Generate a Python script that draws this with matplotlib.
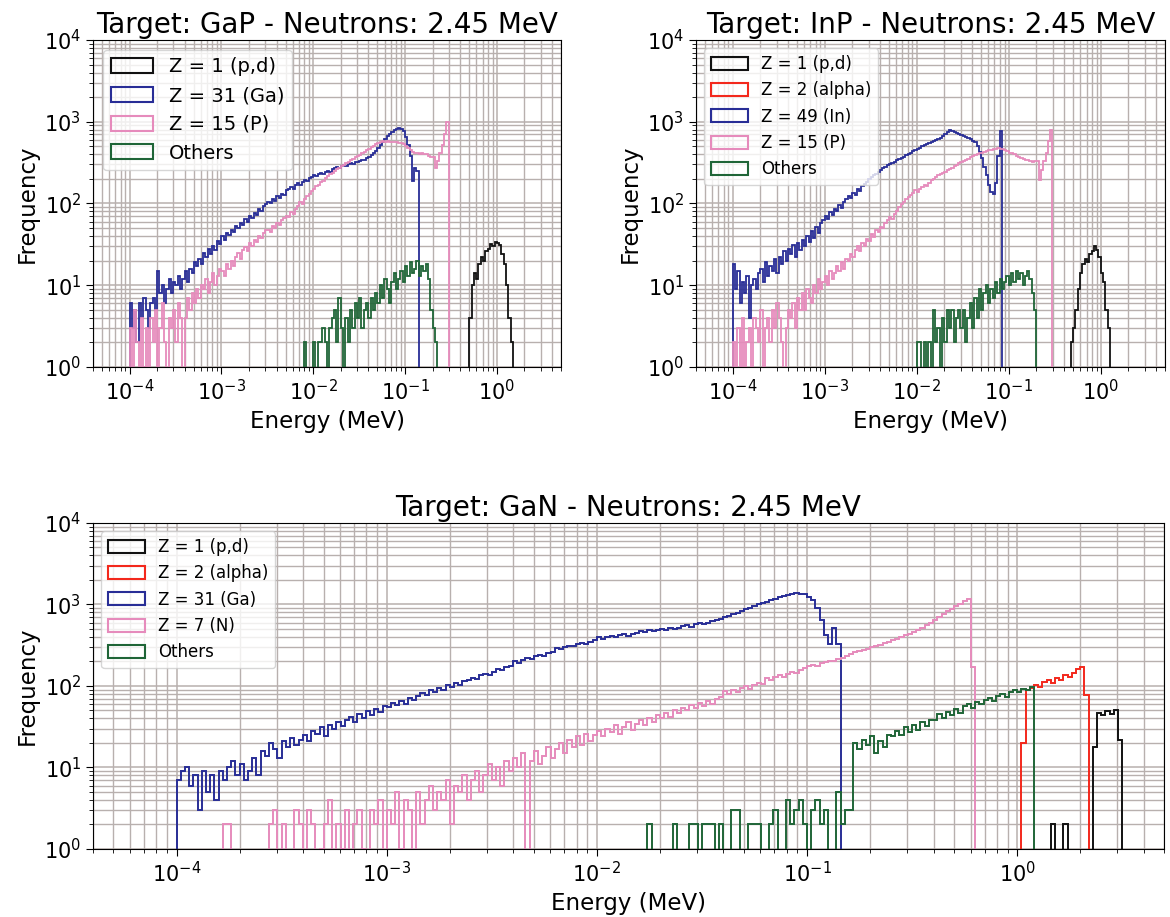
import numpy as np
import matplotlib
matplotlib.use("Agg")
import matplotlib.pyplot as plt
from matplotlib.patches import Patch
from matplotlib.ticker import LogLocator

# ---------------- binning (log-spaced energy bins, MeV) ----------------
E_MIN_EXP = -4
TOP_BINS_PER_DECADE = 40
BOTTOM_BINS_PER_DECADE = 50

# ---------------- GaP (top-left), 40 bins/decade from 1e-4 MeV ----------------
GAP_GA_START = 0
GAP_GA = [6, 3, 5, 2, 6, 4, 7, 5, 3, 6,
          7, 5, 15, 8, 10, 6, 9, 12, 8, 11,
          10, 13, 9, 12, 15, 11, 16, 14, 19, 17,
          21, 18, 25, 22, 28, 24, 30, 27, 35, 32,
          40, 36, 44, 41, 48, 45, 53, 50, 58, 55,
          64, 60, 70, 66, 77, 73, 85, 80, 92, 98,
          104, 100, 112, 108, 122, 118, 132, 128, 145, 150,
          158, 152, 170, 176, 168, 185, 192, 186, 205, 212,
          222, 215, 230, 238, 232, 245, 252, 246, 262, 275,
          280, 272, 288, 295, 290, 302, 310, 305, 318, 325,
          330, 338, 345, 360, 372, 390, 410, 440, 480, 520,
          560, 610, 660, 700, 750, 790, 820, 835, 810, 760,
          650, 520, 380, 190, 270, 250]
GAP_P_START = 0
GAP_P = [3, 0, 5, 2, 0, 4, 1, 3, 0, 4,
         2, 5, 0, 3, 6, 2, 0, 4, 3, 5,
         2, 6, 4, 0, 4, 7, 5, 8, 6, 9,
         7, 10, 9, 12, 8, 11, 14, 10, 13, 16,
         15, 13, 18, 16, 20, 17, 22, 25, 21, 27,
         29, 26, 33, 30, 36, 34, 40, 38, 44, 47,
         48, 45, 53, 50, 58, 55, 62, 66, 70, 68,
         78, 74, 85, 92, 105, 98, 115, 122, 130, 142,
         150, 162, 170, 182, 190, 204, 215, 228, 236, 250,
         262, 270, 285, 296, 310, 322, 340, 352, 368, 380,
         395, 410, 428, 450, 470, 490, 510, 528, 548, 560,
         575, 568, 580, 570, 565, 572, 560, 555, 548, 530,
         505, 480, 450, 430, 420, 410, 400, 415, 398, 405,
         385, 375, 370, 270, 330, 420, 520, 700, 980]
GAP_OTH_START = 76
GAP_OTH = [2,
           0, 0, 0, 2, 0, 2,
           2, 3, 2, 0, 3, 4,
           5, 2, 7, 3, 0, 4, 2,
           5, 3, 6, 4, 7, 3, 5, 6, 4, 7, 5,
           8, 6, 10, 7, 12, 9, 6, 11, 14, 9, 12,
           15, 11, 17, 13, 19, 14, 16, 20, 13, 17, 15, 18,
           12, 5, 3, 2]
GAP_H_START = 148
GAP_H = [4, 10, 14, 12, 18, 22, 20, 26, 28, 32, 30, 34, 33, 31, 24, 18, 10, 4, 2]

# ---------------- InP (top-right), 40 bins/decade ----------------
INP_IN_START = 0
INP_IN = [18, 9, 15, 6, 11, 8, 13, 4, 10, 12,
          9, 14, 16, 11, 19, 13, 17, 15, 21, 14,
          22, 18, 26, 20, 28, 24, 31, 22, 33, 27,
          36, 30, 40, 34, 46, 38, 52, 44, 58, 62,
          70, 64, 78, 72, 86, 80, 95, 88, 105, 112,
          125, 118, 135, 128, 150, 142, 165, 175, 185, 198,
          210, 222, 230, 245, 258, 270, 280, 292, 300, 315,
          325, 338, 350, 362, 375, 390, 405, 420, 440, 455,
          470, 482, 500, 515, 530, 545, 560, 578, 595, 610,
          630, 660, 700, 750, 790, 770, 745, 720, 705, 690,
          670, 655, 630, 610, 580, 560, 500, 430, 360, 280,
          220, 170, 140, 130, 180, 380, 760]
INP_P_START = 0
INP_P = [2, 0, 3, 1, 4, 0, 2, 3, 0, 4,
         3, 2, 5, 0, 3, 4, 2, 5, 3, 6,
         4, 2, 0, 3, 5, 4, 6, 3, 7, 5,
         8, 5, 9, 7, 6, 10, 8, 12, 9, 11,
         13, 10, 15, 12, 14, 17, 15, 19, 16, 21,
         20, 24, 22, 27, 30, 26, 33, 30, 37, 35,
         42, 39, 47, 45, 52, 50, 58, 62, 68, 65,
         75, 82, 90, 98, 105, 112, 120, 126, 135, 145,
         138, 150, 160, 170, 165, 180, 192, 200, 210, 222,
         230, 238, 245, 255, 262, 270, 285, 295, 310, 320,
         330, 345, 355, 370, 380, 392, 400, 412, 420, 428,
         435, 445, 450, 460, 470, 475, 465, 460, 450, 440,
         420, 412, 400, 385, 375, 360, 350, 345, 338, 330,
         325, 330, 335, 195, 260, 330, 420, 580, 800]
INP_OTH_START = 80
INP_OTH = [2,
           2, 0, 2, 0, 2,
           0, 5, 2, 3, 0, 4, 2, 5,
           3, 5, 2, 4, 5, 3, 5, 2, 4, 6,
           3, 7, 4, 9, 5, 8, 10, 6,
           9, 7, 11, 8, 12, 9, 11,
           13, 10, 14, 11, 15, 12, 14, 10, 13, 15, 12,
           8, 5]
INP_H_START = 147
INP_H = [2, 3, 5, 9, 14, 18, 21, 19, 24, 26, 30, 27, 22, 14, 11, 5, 3]

# ---------------- GaN (bottom), 50 bins/decade ----------------
GAN_GA_START = 0
GAN_GA = [7, 9, 10, 6, 8, 3, 9, 5, 8, 4,
          9, 7, 10, 12, 8, 11, 7, 9, 13, 8,
          16, 14, 20, 17, 13, 21, 18, 23, 19, 22,
          25, 21, 28, 26, 31, 24, 33, 30, 36, 32,
          38, 42, 36, 45, 41, 49, 44, 52, 48, 57,
          55, 62, 58, 66, 60, 71, 68, 75, 83, 78,
          88, 84, 95, 90, 102, 98, 108, 104, 115, 120,
          126, 121, 135, 142, 138, 150, 160, 155, 170, 178,
          200, 192, 210, 218, 212, 232, 240, 235, 255, 262,
          290, 282, 300, 312, 305, 325, 335, 330, 350, 362,
          395, 380, 402, 410, 398, 420, 430, 415, 440, 448,
          470, 455, 480, 468, 490, 500, 485, 510, 498, 520,
          540, 555, 535, 570, 585, 575, 600, 620, 640, 660,
          700, 730, 760, 790, 830, 870, 910, 960, 1000, 1040,
          1080, 1120, 1170, 1220, 1260, 1300, 1340, 1370, 1360, 1330,
          1230, 1120, 900, 640, 420, 330, 520, 330]
GAN_N_START = 10
GAN_N = [0, 2, 2, 0, 0, 0, 0, 0, 0, 0,
         0, 0, 2, 3, 0, 2, 0, 0, 3, 2,
         0, 3, 2, 0, 1, 2, 4, 0, 2, 1,
         3, 0, 2, 3, 1, 0, 3, 2, 4, 0,
         3, 2, 5, 1, 4, 3, 0, 5, 2, 4,
         6, 3, 5, 4, 7, 2, 6, 5, 8, 4,
         7, 9, 5, 8, 11, 7, 10, 6, 12, 9,
         13, 10, 15, 0, 12, 16, 11, 14, 18, 13,
         17, 20, 15, 22, 18, 24, 19, 26, 21, 25,
         28, 24, 30, 27, 33, 26, 31, 36, 29, 34,
         38, 33, 41, 36, 44, 40, 47, 42, 50, 46,
         54, 50, 58, 53, 62, 57, 66, 60, 70, 74,
         86, 80, 90, 85, 95, 100, 93, 104, 110, 106,
         124, 118, 130, 136, 128, 142, 150, 145, 158, 165,
         175, 182, 178, 190, 198, 205, 200, 215, 222, 230,
         250, 258, 265, 275, 285, 300, 310, 322, 335, 350,
         365, 380, 400, 420, 440, 465, 490, 520, 560, 600,
         650, 700, 760, 820, 880, 950, 1020, 1090, 1170, 170]
GAN_OTH_START = 112
GAN_OTH = [2, 0, 0, 0, 0, 0, 2, 0,
           0, 0, 2, 2, 0, 2, 2, 2, 0, 2,
           0, 0, 3, 3, 0, 0, 2, 2, 2, 0,
           0, 2, 3, 0, 0, 4, 2, 3, 4, 2,
           0, 3, 4, 2, 3, 0, 0, 5, 2, 3,
           3,
           20, 17, 22, 19, 24, 15, 21, 18, 25,
           24, 28, 25, 31, 27, 33, 29, 36, 32, 38,
           38, 45, 40, 48, 44, 52, 47, 56, 60, 54,
           64, 60, 68, 72, 66, 76, 80, 74, 84, 88,
           85, 92, 88, 96]
GAN_ALPHA_START = 201
GAN_ALPHA = [20, 88, 95, 102, 98, 112, 118, 110, 125, 120, 135, 130, 145, 160, 172, 78]
GAN_H_START = 208
GAN_H = [2, 0, 0, 2, 0, 0, 0, 0, 0, 0, 18, 47, 44, 49, 45, 50, 22]

# ---------------- labels ----------------
TITLES = ["Target: GaP - Neutrons: 2.45 MeV",
          "Target: InP - Neutrons: 2.45 MeV",
          "Target: GaN - Neutrons: 2.45 MeV"]
LEG_GAP = ["Z = 1 (p,d)", "Z = 31 (Ga)", "Z = 15 (P)", "Others"]
LEG_INP = ["Z = 1 (p,d)", "Z = 2 (alpha)", "Z = 49 (In)", "Z = 15 (P)", "Others"]
LEG_GAN = ["Z = 1 (p,d)", "Z = 2 (alpha)", "Z = 31 (Ga)", "Z = 7 (N)", "Others"]

C_H = "#111111"
C_ALPHA = "#f3281c"
C_HEAVY = "#282d96"
C_LIGHT = "#e68bbc"
C_OTH = "#1f6537"
GRID_C = "#b8b0ae"

def edges_for(per_decade, n):
    return 10.0 ** (E_MIN_EXP + np.arange(n + 1) / per_decade)

def draw(ax, edges, start, counts, color, lw):
    e = edges[start:start + len(counts) + 1]
    ax.stairs(np.asarray(counts, float), e, baseline=0, color=color, lw=lw)

def style(ax, title, labels, colors, leg_fs):
    ax.set_xscale("log", nonpositive="clip")
    ax.set_yscale("log", nonpositive="clip")
    ax.set_xlim(4e-5, 5)
    ax.set_ylim(1, 1e4)
    for axis in (ax.xaxis, ax.yaxis):
        axis.set_major_locator(LogLocator(base=10, numticks=20))
        axis.set_minor_locator(LogLocator(base=10, subs=np.arange(2, 10), numticks=100))
    ax.grid(True, which="major", color=GRID_C, lw=1.1)
    ax.grid(True, which="minor", color=GRID_C, lw=1.0)
    ax.set_axisbelow(True)
    ax.set_title(title, fontsize=20, pad=5)
    ax.set_xlabel("Energy (MeV)", fontsize=16.5)
    ax.set_ylabel("Frequency", fontsize=16.5)
    ax.tick_params(which="major", labelsize=15, length=5)
    ax.tick_params(which="minor", length=3)
    handles = [Patch(facecolor="none", edgecolor=c, lw=1.5) for c in colors]
    ax.legend(handles, labels, loc="upper left", fontsize=leg_fs,
              handlelength=2.2, handleheight=0.8, framealpha=0.8)

fig = plt.figure(figsize=(11.7, 9.17), dpi=100)
ax1 = fig.add_axes([0.0795, 0.5998, 0.400, 0.3566])
ax2 = fig.add_axes([0.5949, 0.5998, 0.4009, 0.3566])
ax3 = fig.add_axes([0.0795, 0.0742, 0.9154, 0.3555])

et = edges_for(TOP_BINS_PER_DECADE, 200)
eb = edges_for(BOTTOM_BINS_PER_DECADE, 250)

lw_top = 1.3
draw(ax1, et, GAP_H_START, GAP_H, C_H, lw_top)
draw(ax1, et, GAP_GA_START, GAP_GA, C_HEAVY, lw_top)
draw(ax1, et, GAP_P_START, GAP_P, C_LIGHT, lw_top)
draw(ax1, et, GAP_OTH_START, GAP_OTH, C_OTH, lw_top)
style(ax1, TITLES[0], LEG_GAP, [C_H, C_HEAVY, C_LIGHT, C_OTH], 14)

draw(ax2, et, INP_H_START, INP_H, C_H, lw_top)
draw(ax2, et, INP_IN_START, INP_IN, C_HEAVY, lw_top)
draw(ax2, et, INP_P_START, INP_P, C_LIGHT, lw_top)
draw(ax2, et, INP_OTH_START, INP_OTH, C_OTH, lw_top)
style(ax2, TITLES[1], LEG_INP, [C_H, C_ALPHA, C_HEAVY, C_LIGHT, C_OTH], 12)

lw_bot = 1.4
draw(ax3, eb, GAN_H_START, GAN_H, C_H, lw_bot)
draw(ax3, eb, GAN_ALPHA_START, GAN_ALPHA, C_ALPHA, lw_bot)
draw(ax3, eb, GAN_GA_START, GAN_GA, C_HEAVY, lw_bot)
draw(ax3, eb, GAN_N_START, GAN_N, C_LIGHT, lw_bot)
draw(ax3, eb, GAN_OTH_START, GAN_OTH, C_OTH, lw_bot)
style(ax3, TITLES[2], LEG_GAN, [C_H, C_ALPHA, C_HEAVY, C_LIGHT, C_OTH], 12)

fig.savefig("out.png", dpi=100, facecolor="white")
